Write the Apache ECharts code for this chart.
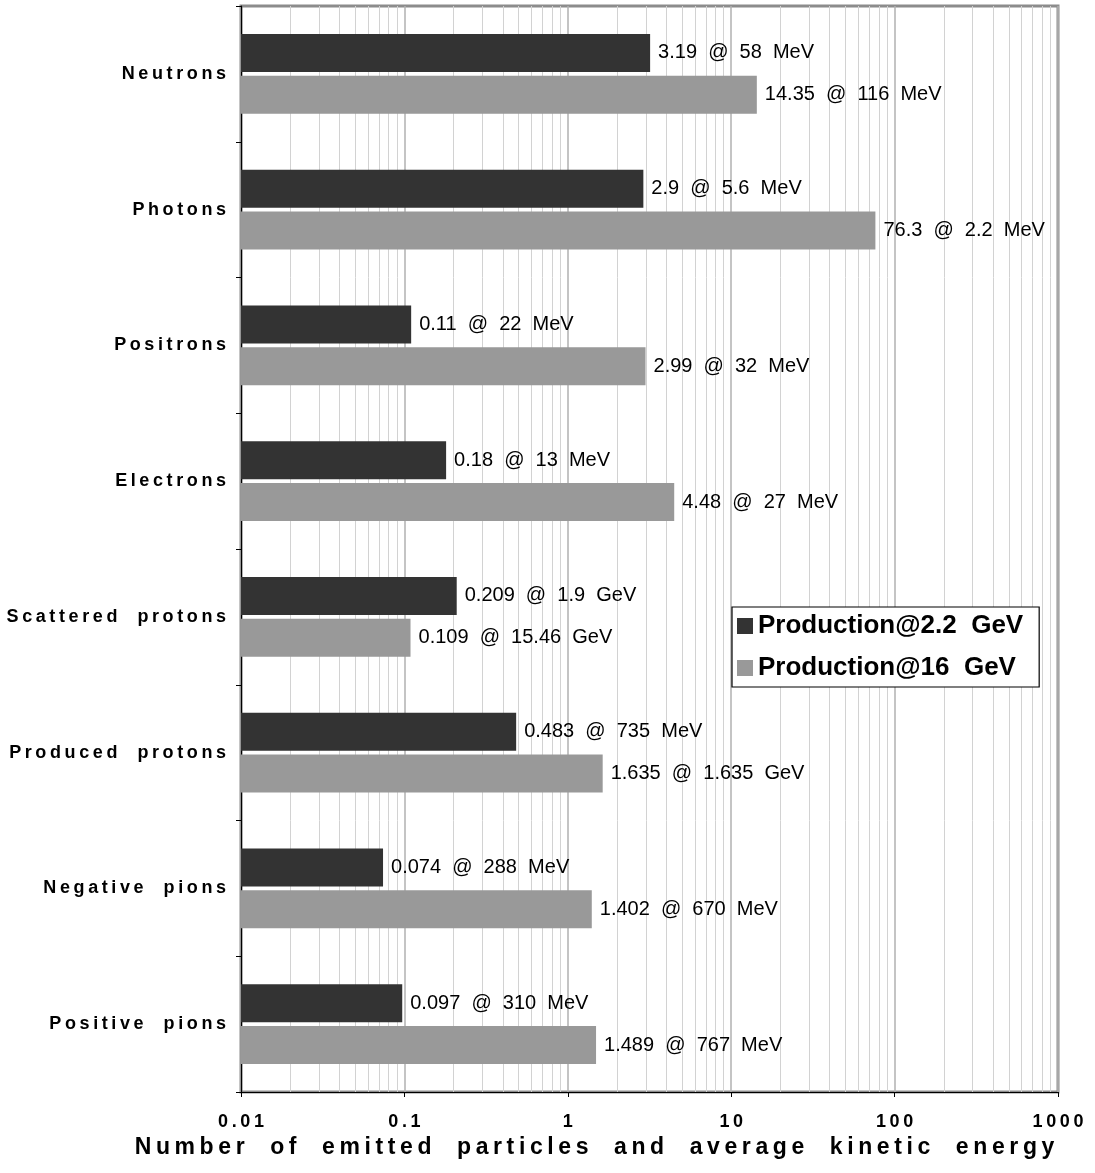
<!DOCTYPE html>
<html>
<head>
<meta charset="utf-8">
<script src="https://cdn.jsdelivr.net/npm/echarts@6/dist/echarts.min.js"></script>
<style>
html,body{margin:0;padding:0;background:#fff;}
#chart{width:1095px;height:1173px;}
</style>
</head>
<body>
<div id="chart"></div>
<script>
// ---- data ----
const categories = ['Neutrons', 'Photons', 'Positrons', 'Electrons', 'Scattered protons', 'Produced protons', 'Negative pions', 'Positive pions'];
const seriesNames = ['Production@2.2 GeV', 'Production@16 GeV'];
const prod22Values = [3.19, 2.9, 0.11, 0.18, 0.209, 0.483, 0.074, 0.097];
const prod22Energy = ['58 MeV', '5.6 MeV', '22 MeV', '13 MeV', '1.9 GeV', '735 MeV', '288 MeV', '310 MeV'];
const prod16Values = [14.35, 76.3, 2.99, 4.48, 0.109, 1.635, 1.402, 1.489];
const prod16Energy = ['116 MeV', '2.2 MeV', '32 MeV', '27 MeV', '15.46 GeV', '1.635 GeV', '670 MeV', '767 MeV'];
const xTickLabels = ['0.01', '0.1', '1', '10', '100', '1000'];
const minorGrid = [0.02, 0.03, 0.04, 0.05, 0.06, 0.07, 0.08, 0.09,
  0.2, 0.3, 0.4, 0.5, 0.6, 0.7, 0.8, 0.9,
  2, 3, 4, 5, 6, 7, 8, 9,
  20, 30, 40, 50, 60, 70, 80, 90,
  200, 300, 400, 500, 600, 700, 800, 900];
const axisTitle = 'Number of emitted particles and average kinetic energy';

// ---- helpers ----
const THIN = '\u2009';
function spaced(s, wordGap) {
  return s.split(' ').map(w => w.split('').join(THIN)).join(wordGap);
}
function fmtTick(v) {
  let s = String(v);
  const hit = xTickLabels.find(t => Math.abs(parseFloat(t) - v) < 1e-9 * Math.max(1, v));
  if (hit) s = hit;
  return s.split('').join(THIN);
}
function barLabel(values, energies) {
  return p => (values[p.dataIndex] + ' @ ' + energies[p.dataIndex]).replace(/ /g, '  ');
}

const chart = echarts.init(document.getElementById('chart'), null, {renderer: 'canvas'});
const FONT = '"Liberation Sans", Arial, Helvetica, sans-serif';

const option = {
  animation: false,
  backgroundColor: '#ffffff',
  textStyle: {fontFamily: FONT},
  grid: {
    left: 241, right: 37, top: 6, bottom: 81,
    show: true, borderColor: '#8c8c8c', borderWidth: 3, backgroundColor: 'transparent'
  },
  legend: {
    data: seriesNames,
    orient: 'vertical',
    left: 732, top: 607,
    padding: [6, 16, 6, 5],
    itemWidth: 16, itemHeight: 16, itemGap: 16,
    icon: 'rect',
    backgroundColor: '#ffffff',
    borderColor: '#000000', borderWidth: 1.2,
    formatter: n => n.replace(' ', '  '),
    textStyle: {fontSize: 26, fontWeight: 'bold', color: '#000', fontFamily: FONT}
  },
  xAxis: {
    type: 'log', logBase: 10, min: 0.01, max: 1000, splitNumber: 5, startValue: 0.01,
    axisLine: {show: true, lineStyle: {color: '#000', width: 1.2}},
    axisTick: {show: true, length: 5, lineStyle: {color: '#000'}},
    axisLabel: {margin: 21, fontSize: 18, fontWeight: 'bold', color: '#000', fontFamily: FONT, formatter: fmtTick},
    splitLine: {show: true, lineStyle: {color: '#b0b0b0', width: 1.5}},
    name: spaced(axisTitle, '    '),
    nameLocation: 'middle', nameGap: 33,
    nameTextStyle: {fontSize: 23, fontWeight: 'bold', color: '#000', fontFamily: FONT, padding: [0, 110, 0, 0]}
  },
  yAxis: {
    type: 'category', data: categories, inverse: true,
    axisLine: {show: true, lineStyle: {color: '#000', width: 1.2}},
    axisTick: {show: true, length: 5, lineStyle: {color: '#000'}},
    axisLabel: {margin: 15, fontSize: 18, fontWeight: 'bold', color: '#000', fontFamily: FONT,
      padding: [12, 0, 0, 0],
      formatter: v => spaced(v, '    ')},
    splitLine: {show: false}
  },
  series: [
    {
      name: 'grid', type: 'line', data: [], silent: true, z: 0,
      markLine: {
        silent: true, symbol: ['none', 'none'], animation: false, z: 0,
        label: {show: false},
        lineStyle: {color: '#d2d2d2', type: 'solid', width: 1},
        data: minorGrid.map(v => ({xAxis: v}))
      }
    },
    {
      name: seriesNames[0], type: 'bar', data: prod22Values, z: 4, startValue: 0.01,
      barWidth: 38, barGap: '10%',
      itemStyle: {color: '#333333'},
      label: {show: true, position: 'right', distance: 8, fontSize: 20, color: '#000', fontFamily: FONT,
        formatter: barLabel(prod22Values, prod22Energy)}
    },
    {
      name: seriesNames[1], type: 'bar', data: prod16Values, z: 4, startValue: 0.01,
      barWidth: 38, barGap: '10%',
      itemStyle: {color: '#999999'},
      label: {show: true, position: 'right', distance: 8, fontSize: 20, color: '#000', fontFamily: FONT,
        formatter: barLabel(prod16Values, prod16Energy)}
    }
  ]
};
chart.setOption(option);
</script>
</body>
</html>
